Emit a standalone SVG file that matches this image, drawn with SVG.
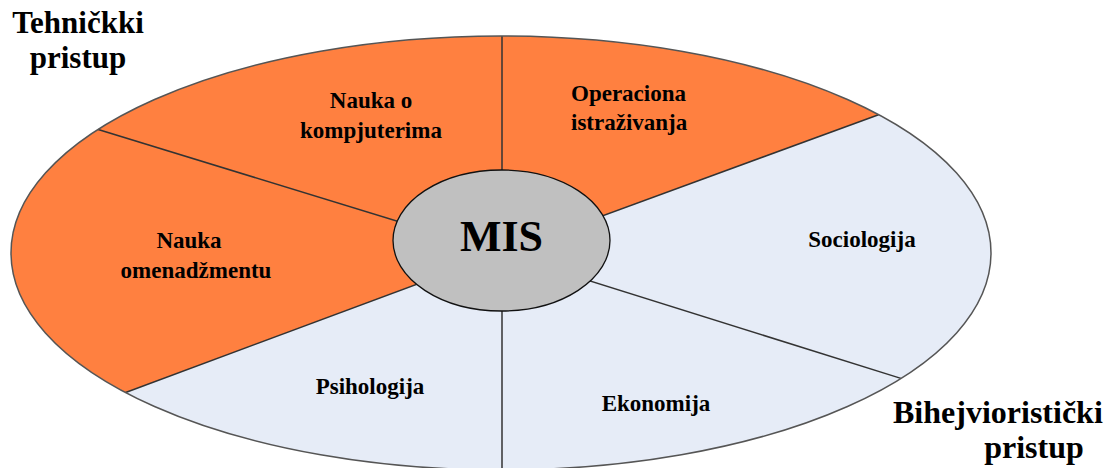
<svg xmlns="http://www.w3.org/2000/svg" width="1105" height="468" viewBox="0 0 1105 468">
<style>
.lbl{font-family:"Liberation Serif","Times New Roman",serif;font-weight:bold;fill:#000;}
.sec{font-size:23px;}
.big{font-size:32px;}
.div{stroke:#333;stroke-width:1.5;fill:none;}
</style>
<rect width="1105" height="468" fill="#fff"/>
<g id="wheel">
<ellipse cx="501" cy="253" rx="490" ry="217" fill="#E6ECF7"/>
<path d="M501,253 L878.55,114.68 A490,217 0 0,0 501,36 A490,217 0 0,0 125.64,392.49 Z" fill="#FF8040"/>
</g>
<g id="connectors">
<line class="div" x1="502" y1="36" x2="502" y2="253"/>
<line class="div" x1="502" y1="253" x2="502" y2="470"/>
<line class="div" x1="98.2" y1="129.5" x2="501" y2="253"/>
<line class="div" x1="878.55" y1="114.68" x2="501" y2="253"/>
<line class="div" x1="900.9" y1="378.4" x2="501" y2="253"/>
<line class="div" x1="125.64" y1="392.49" x2="501" y2="253"/>
</g>
<ellipse cx="501" cy="253" rx="490" ry="217" fill="none" stroke="#555" stroke-width="1.5"/>
<g id="mis">
<ellipse cx="501.5" cy="240.5" rx="108.5" ry="70.5" fill="#C0C0C0" stroke="#111" stroke-width="1.3"/>
<text class="lbl" x="501.5" y="251" font-size="44" text-anchor="middle">MIS</text>
</g>
<g id="nauka-kompjuterima"><text class="lbl sec" text-anchor="middle"><tspan x="371" y="108">Nauka o</tspan><tspan x="371" y="138">kompjuterima</tspan></text></g>
<g id="operaciona"><text class="lbl sec"><tspan x="571" y="101">Operaciona</tspan><tspan x="571" y="130">istraživanja</tspan></text></g>
<g id="nauka-menadzmentu"><text class="lbl sec" text-anchor="middle"><tspan x="189" y="248">Nauka</tspan><tspan x="196" y="278">omenadžmentu</tspan></text></g>
<g id="sociologija"><text class="lbl sec" x="862" y="247" text-anchor="middle">Sociologija</text></g>
<g id="ekonomija"><text class="lbl sec" x="656" y="411" text-anchor="middle">Ekonomija</text></g>
<g id="psihologija"><text class="lbl sec" x="370" y="394" text-anchor="middle">Psihologija</text></g>
<g id="tehnicki"><text class="lbl" font-size="31" text-anchor="middle"><tspan x="78" y="33">Tehničkki</tspan><tspan x="78" y="68">pristup</tspan></text></g>
<g id="bihejvioristicki"><text class="lbl big"><tspan x="893" y="423">Bihejvioristički</tspan><tspan x="1034" y="458" text-anchor="middle">pristup</tspan></text></g>
</svg>
